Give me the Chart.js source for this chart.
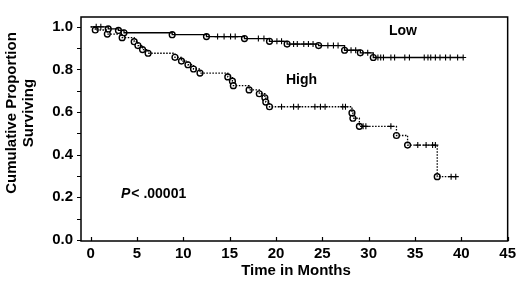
<!DOCTYPE html>
<html>
<head>
<meta charset="utf-8">
<script src="https://cdn.jsdelivr.net/npm/chart.js@4.4.0/dist/chart.umd.min.js"></script>
<style>
  html, body { margin: 0; padding: 0; background: #fff; }
</style>
</head>
<body>
<canvas id="km" width="520" height="283"></canvas>
<script>
// Kaplan-Meier data (months, proportion surviving)
var lowEventTimes = [1.9, 3.0, 3.6, 8.8, 12.5, 16.6, 19.3, 21.2, 24.6, 27.4, 29.1, 30.5];
var lowEventSurv  = [0.99, 0.983, 0.972, 0.963, 0.954, 0.945, 0.932, 0.919, 0.912, 0.89, 0.878, 0.856];
var lowCensored   = [0.6, 1.1, 13.7, 14.4, 15.1, 15.6, 18.1, 18.7, 20.1, 20.6, 21.9, 22.3, 23.0, 23.5, 24.0,
                     25.6, 26.2, 26.7, 28.1, 28.6, 29.9, 31.0, 31.3, 31.6, 32.4, 32.8, 33.9, 34.4,
                     36.0, 36.4, 36.7, 37.2, 37.7, 38.3, 38.8, 39.6, 40.2];

var highEventTimes = [0.5, 1.8, 3.4, 4.7, 5.1, 5.6, 6.2, 9.1, 9.8, 10.5, 11.1, 11.8, 14.8, 15.3, 15.4,
                      17.1, 18.2, 18.8, 18.9, 19.3, 28.2, 28.3, 29.0, 33.0, 34.2, 37.4];
var highEventSurv  = [0.985, 0.966, 0.949, 0.93, 0.912, 0.893, 0.876, 0.857, 0.839, 0.822, 0.802, 0.783,
                      0.765, 0.745, 0.724, 0.704, 0.686, 0.667, 0.647, 0.625, 0.596, 0.571, 0.533,
                      0.49, 0.445, 0.297];
var highCensored   = [20.6, 21.9, 22.4, 24.2, 24.8, 25.3, 27.2, 27.5, 29.4, 29.7, 32.4,
                      35.3, 36.2, 36.9, 37.2, 38.9, 39.4];

var xTicks = [0, 5, 10, 15, 20, 25, 30, 35, 40, 45];
var yTicks = [0.0, 0.2, 0.4, 0.6, 0.8, 1.0];

function survAt(t, times, surv) {
  var s = 1;
  for (var i = 0; i < times.length; i++) {
    if (times[i] <= t) s = surv[i];
  }
  return s;
}

function stepPoints(times, surv, endT) {
  var pts = [{x: 0, y: 1}];
  for (var i = 0; i < times.length; i++) pts.push({x: times[i], y: surv[i]});
  pts.push({x: endT, y: surv[surv.length - 1]});
  return pts;
}

function eventPoints(times, surv) {
  return times.map(function (t, i) { return {x: t, y: surv[i]}; });
}

function censorPoints(cens, times, surv) {
  return cens.map(function (t) { return {x: t, y: survAt(t, times, surv)}; });
}

var boldFont = 'bold 15px "Liberation Sans", Arial, sans-serif';

var framePlugin = {
  id: 'frame',
  afterDraw: function (chart) {
    var ctx = chart.ctx;
    var a = chart.chartArea;
    var xs = chart.scales.x, ys = chart.scales.y;
    ctx.save();
    ctx.strokeStyle = '#000';
    ctx.lineWidth = 1.5;
    ctx.strokeRect(a.left, a.top, a.right - a.left, a.bottom - a.top);

    // y ticks, outward, every 0.1
    ctx.lineWidth = 1.2;
    ctx.beginPath();
    for (var k = 0; k <= 10; k++) {
      var py = Math.round(ys.getPixelForValue(k / 10)) + 0.5;
      ctx.moveTo(a.left - 4, py);
      ctx.lineTo(a.left, py);
    }
    // x ticks, inward
    xTicks.forEach(function (v) {
      var px = Math.round(xs.getPixelForValue(v)) + 0.5;
      ctx.moveTo(px, a.bottom);
      ctx.lineTo(px, a.bottom - 4);
    });
    ctx.stroke();

    ctx.fillStyle = '#000';
    ctx.font = boldFont;
    ctx.textAlign = 'center';
    ctx.textBaseline = 'middle';
    ctx.fillText('Time in Months', 296, 271);

    ctx.save();
    ctx.translate(12, 113);
    ctx.rotate(-Math.PI / 2);
    ctx.fillText('Cumulative Proportion', 0, 0);
    ctx.fillText('Surviving', 0, 17);
    ctx.restore();

    ctx.font = 'bold 14px "Liberation Sans", Arial, sans-serif';
    ctx.textAlign = 'left';
    ctx.fillText('Low', 389, 31);
    ctx.fillText('High', 286, 80);
    ctx.font = 'italic bold 14px "Liberation Sans", Arial, sans-serif';
    ctx.fillText('P', 121, 194);
    var pw = ctx.measureText('P').width;
    ctx.font = 'bold 14px "Liberation Sans", Arial, sans-serif';
    ctx.fillText('< .00001', 121 + pw + 1, 194);
    ctx.restore();
  }
};

var lastLow = lowCensored[lowCensored.length - 1];
var lastHigh = highCensored[highCensored.length - 1];

new Chart(document.getElementById('km'), {
  type: 'scatter',
  data: {
    datasets: [
      {
        label: 'Low',
        data: stepPoints(lowEventTimes, lowEventSurv, lastLow),
        showLine: true, stepped: 'before',
        borderColor: '#000', borderWidth: 1.3,
        pointRadius: 0
      },
      {
        label: 'High',
        data: stepPoints(highEventTimes, highEventSurv, lastHigh),
        showLine: true, stepped: 'before',
        borderColor: '#000', borderWidth: 1.3, borderDash: [1.5, 1.5],
        pointRadius: 0
      },
      {
        label: 'Low censored',
        data: censorPoints(lowCensored, lowEventTimes, lowEventSurv),
        pointStyle: 'cross', pointRadius: 3, borderColor: '#000', borderWidth: 1.1
      },
      {
        label: 'High censored',
        data: censorPoints(highCensored, highEventTimes, highEventSurv),
        pointStyle: 'cross', pointRadius: 3, borderColor: '#000', borderWidth: 1.1
      },
      {
        label: 'Low events',
        data: eventPoints(lowEventTimes, lowEventSurv),
        pointStyle: 'circle', pointRadius: 2.9, borderColor: '#000', backgroundColor: '#fff', borderWidth: 1.4
      },
      {
        label: 'High events',
        data: eventPoints(highEventTimes, highEventSurv),
        pointStyle: 'circle', pointRadius: 2.9, borderColor: '#000', backgroundColor: '#fff', borderWidth: 1.4
      }
    ]
  },
  options: {
    responsive: false,
    animation: false,
    layout: { padding: { top: 3, right: 9, left: 0, bottom: 0 } },
    plugins: { legend: { display: false }, tooltip: { enabled: false } },
    scales: {
      x: {
        type: 'linear', min: -1.04, max: 45,
        grid: { display: false, drawTicks: false },
        border: { display: false },
        afterBuildTicks: function (s) { s.ticks = xTicks.map(function (v) { return {value: v}; }); },
        afterFit: function (s) { s.height = 42; },
        ticks: {
          color: '#000', padding: 4,
          font: { family: '"Liberation Sans", Arial, sans-serif', size: 15, weight: 'bold' },
          callback: function (v) { return String(v); }
        }
      },
      y: {
        type: 'linear', min: -0.005, max: 1.046,
        grid: { display: false, drawTicks: false },
        border: { display: false },
        afterBuildTicks: function (s) { s.ticks = yTicks.map(function (v) { return {value: v}; }); },
        afterFit: function (s) { s.width = 81; },
        ticks: {
          color: '#000', padding: 8,
          font: { family: '"Liberation Sans", Arial, sans-serif', size: 15, weight: 'bold' },
          callback: function (v) { return v.toFixed(1); }
        }
      }
    }
  },
  plugins: [framePlugin]
});
</script>
</body>
</html>
